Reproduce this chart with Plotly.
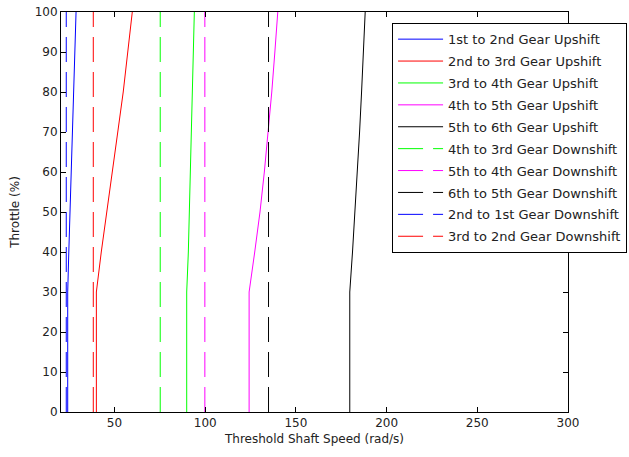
import plotly.graph_objects as go

# Throttle (%) sample points
throttle_up = [0, 30, 40, 50, 60, 70, 80, 90, 100]
throttle_down = [0, 100]

# Upshift threshold speeds (rad/s)
up_1_2 = [24.2, 24.2, 24.8, 25.4, 26.1, 26.8, 27.4, 28.1, 28.8]
up_2_3 = [40.0, 40.0, 42.7, 45.6, 48.9, 51.8, 54.8, 57.4, 59.8]
up_3_4 = [89.8, 89.8, 90.7, 91.2, 91.8, 92.3, 92.8, 93.3, 94.0]
up_4_5 = [124.2, 124.2, 127.3, 130.2, 132.6, 134.8, 136.7, 138.4, 140.0]
up_5_6 = [179.7, 179.7, 181.2, 182.6, 183.9, 185.1, 186.2, 187.2, 188.2]

# Downshift threshold speeds (rad/s)
down_4_3 = [75.2, 75.2]
down_5_4 = [99.8, 99.8]
down_6_5 = [134.9, 134.9]
down_2_1 = [23.4, 23.4]
down_3_2 = [38.3, 38.3]

series = [
    ("1st to 2nd Gear Upshift", up_1_2, throttle_up, "#0000ff", "solid"),
    ("2nd to 3rd Gear Upshift", up_2_3, throttle_up, "#ff0000", "solid"),
    ("3rd to 4th Gear Upshift", up_3_4, throttle_up, "#00ff00", "solid"),
    ("4th to 5th Gear Upshift", up_4_5, throttle_up, "#ff00ff", "solid"),
    ("5th to 6th Gear Upshift", up_5_6, throttle_up, "#000000", "solid"),
    ("4th to 3rd Gear Downshift", down_4_3, throttle_down, "#00ff00", "25px,10px"),
    ("5th to 4th Gear Downshift", down_5_4, throttle_down, "#ff00ff", "25px,10px"),
    ("6th to 5th Gear Downshift", down_6_5, throttle_down, "#000000", "25px,10px"),
    ("2nd to 1st Gear Downshift", down_2_1, throttle_down, "#0000ff", "25px,10px"),
    ("3rd to 2nd Gear Downshift", down_3_2, throttle_down, "#ff0000", "25px,10px"),
]

fig = go.Figure()
for i, (name, xs, ys, color, dash) in enumerate(series):
    fig.add_trace(go.Scatter(
        x=xs, y=ys, mode="lines", name=name, legendgroup=f"g{i}",
        line=dict(color=color, width=1, dash=dash),
    ))

font_family = "DejaVu Sans, Verdana, sans-serif"
axis_common = dict(
    showline=True, linecolor="#000000", linewidth=1, mirror="allticks",
    ticks="inside", ticklen=5, tickcolor="#000000", tickwidth=1,
    showgrid=False, zeroline=False,
    tickfont=dict(family=font_family, size=12, color="#222222"),
)

fig.update_layout(
    width=629, height=457,
    margin=dict(l=61, r=61, t=12, b=45, autoexpand=False),
    paper_bgcolor="#ffffff", plot_bgcolor="#ffffff",
    font=dict(family=font_family, size=12, color="#222222"),
    xaxis=dict(range=[20.5, 300], tickvals=[50, 100, 150, 200, 250, 300],
               title=dict(text="Threshold Shaft Speed (rad/s)", standoff=5,
                          font=dict(size=12)),
               **axis_common),
    yaxis=dict(range=[0, 100], tickvals=list(range(0, 101, 10)),
               title=dict(text="Throttle (%)", standoff=12, font=dict(size=12)),
               **axis_common),
    legend=dict(
        x=0.653, y=0.972, xanchor="left", yanchor="top",
        bgcolor="#ffffff", bordercolor="#000000", borderwidth=1,
        font=dict(family=font_family, size=13, color="#222222"),
        tracegroupgap=2, itemwidth=45, traceorder="grouped",
    ),
    showlegend=True,
)

fig.write_html("out.html")
